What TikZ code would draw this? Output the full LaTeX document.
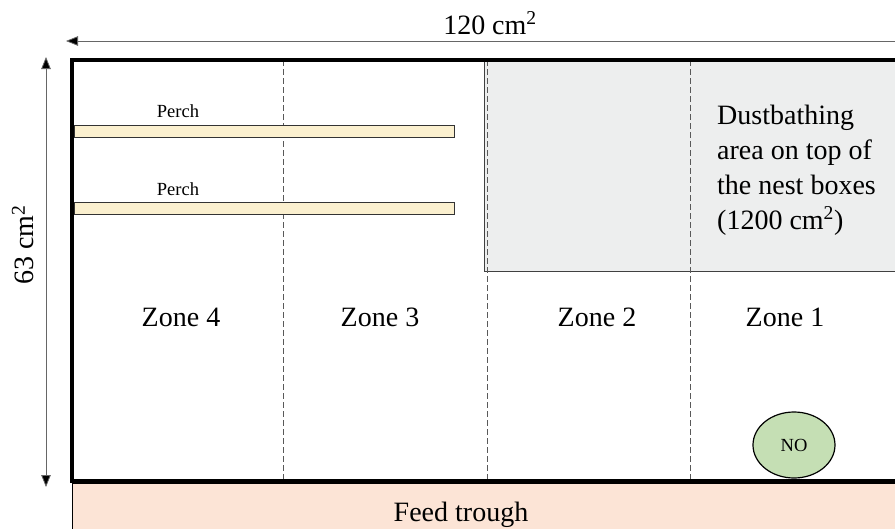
\documentclass[tikz,border=0pt]{standalone}
\usepackage{fontspec}
\setmainfont{Liberation Serif}
\usetikzlibrary{arrows.meta,shapes.geometric}
\definecolor{dustgray}{HTML}{EDEEEE}
\definecolor{perchfill}{HTML}{FBF0CF}
\definecolor{nofill}{HTML}{C5DFB4}
\definecolor{troughfill}{HTML}{FCE4D6}
\tikzset{
  big/.style={font=\fontsize{28}{34.7}\selectfont},
  small/.style={font=\fontsize{18.5}{22}\selectfont},
  dimline/.style={draw=gray!80!black, line width=0.8pt, -{Triangle[length=12pt,width=9.5pt,fill=black]}},
  zoneline/.style={draw=gray!70!black, line width=0.7pt, dash pattern=on 6pt off 3pt},
  perchbar/.style={draw=black!80, line width=1pt, fill=perchfill},
}
\begin{document}
\begin{tikzpicture}[x=1pt,y=-1pt]
\useasboundingbox (0,0) rectangle (895,528);

% feed trough strip below the pen
\fill[troughfill] (72,483) rectangle (905,535);
\draw[black, line width=1pt] (72,483) -- (72,535);
\node[big, anchor=base] (trough) at (461,521) {Feed trough};

% dustbathing area above the nest boxes
\draw[fill=dustgray, draw=black!75, line width=1pt] (484,60) rectangle (905,271);

% zone dividers
\coordinate (d1t) at (283,60); \coordinate (d1b) at (283,481);
\coordinate (d2t) at (487,60); \coordinate (d2b) at (487,481);
\coordinate (d3t) at (690,60); \coordinate (d3b) at (690,481);
\draw[zoneline] (d1t) -- (d1b);
\draw[zoneline] (d2t) -- (d2b);
\draw[zoneline] (d3t) -- (d3b);

% pen outline
\draw[black, line width=3.5pt] (905,60) -- (72,60) -- (72,481) -- (905,481);
\draw[black, line width=5pt] (72,481) -- (905,481);

% perches
\draw[perchbar] (74,125) rectangle (454,137);
\draw[perchbar] (74,202) rectangle (454,214);
\node[small, anchor=base] (perchA) at (178,117) {Perch};
\node[small, anchor=base] (perchB) at (178,195) {Perch};

% zone labels
\node[big, anchor=base] (z4) at (181,326) {Zone 4};
\node[big, anchor=base] (z3) at (380,326) {Zone 3};
\node[big, anchor=base] (z2) at (597,326) {Zone 2};
\node[big, anchor=base] (z1) at (785,326) {Zone 1};

% four-line label: base anchor sits on the last line
\node[big, anchor=base west, align=left, inner sep=0pt] (dust) at (717,229)
  {Dustbathing\\area on top of\\the nest boxes\\(1200 cm\textsuperscript{2})};

% nest opening
\node[ellipse, draw=black, line width=1.2pt, fill=nofill, minimum width=82pt,
      minimum height=66pt, small, inner sep=0pt] (no) at (794,445) {NO};

% dimensions
\coordinate (wR) at (895,41);
\coordinate (wL) at (66,41);
\draw[dimline] (wR) -- (wL);
\node[big, anchor=base] (wlab) at (490,34) {120 cm\textsuperscript{2}};

\coordinate (hM) at (46,272);
\coordinate (hT) at (46,57);
\coordinate (hB) at (46,487);
\draw[dimline] (hM) -- (hT);
\draw[dimline] (hM) -- (hB);
\node[big, rotate=90, anchor=base] (hlab) at (34,245) {63 cm\textsuperscript{2}};
\end{tikzpicture}
\end{document}
